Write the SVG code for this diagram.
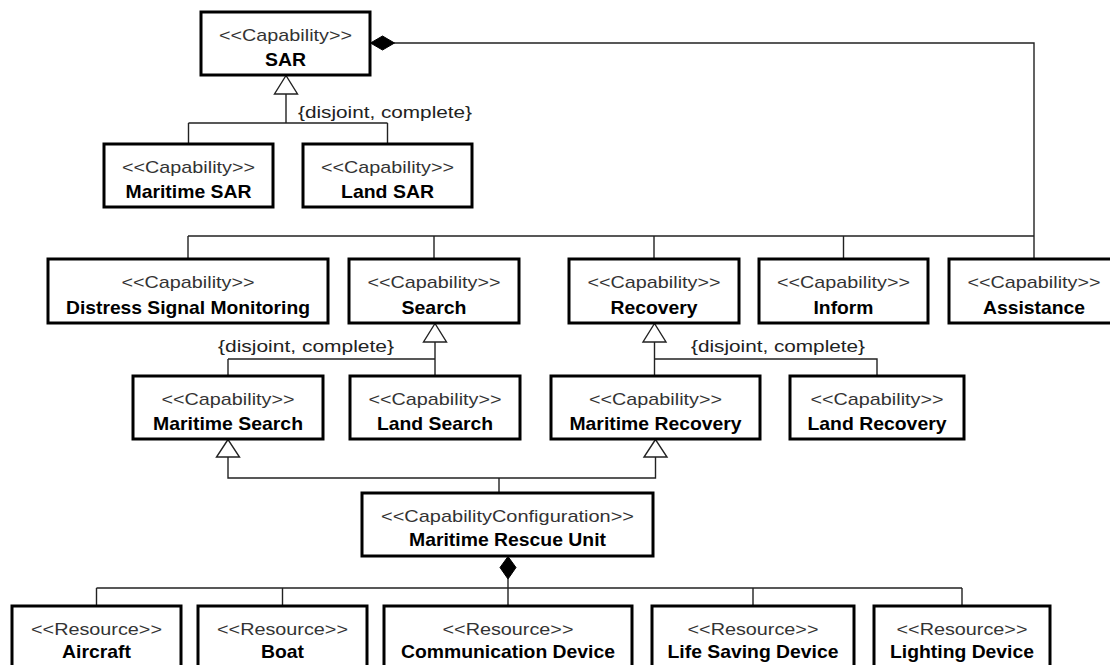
<svg xmlns="http://www.w3.org/2000/svg" width="1110" height="665" viewBox="0 0 1110 665">
<style>
.box{fill:#fff;stroke:#000;stroke-width:3}
.st{font-family:"Liberation Sans",Arial,sans-serif;font-size:17px;fill:#333;text-anchor:middle}
.nm{font-family:"Liberation Sans",Arial,sans-serif;font-size:19px;font-weight:bold;fill:#000;text-anchor:middle}
.lbl{font-family:"Liberation Sans",Arial,sans-serif;font-size:17px;fill:#222}
.ln{fill:none;stroke:#222;stroke-width:1.4}
.gen{fill:#fff;stroke:#222;stroke-width:1.4}
.dia{fill:#000;stroke:#000;stroke-width:1}
</style>
<rect width="1110" height="665" fill="#fff"/>
<g id="connectors">
  <!-- SAR composition -->
  <path class="ln" d="M394,43 H1034 V259"/>
  <path class="ln" d="M188,236 H1034 M188,236 V259 M434,236 V259 M654,236 V259 M843.5,236 V259"/>
  <polygon class="dia" points="370.5,43 382.5,36 394.5,43 382.5,50"/>
  <!-- SAR generalization -->
  <path class="ln" d="M286,94 V123 M188.5,123 H387.5 M188.5,123 V144 M387.5,123 V144"/>
  <polygon class="gen" points="286,75.5 274.5,94 297.5,94"/>
  <text class="lbl" x="298" y="118" textLength="174" lengthAdjust="spacingAndGlyphs">{disjoint, complete}</text>
  <!-- Search generalization -->
  <path class="ln" d="M435,342 V376 M228,359 H435 M228,359 V376"/>
  <polygon class="gen" points="435,323.5 423.5,342 446.5,342"/>
  <text class="lbl" x="218" y="352" textLength="176" lengthAdjust="spacingAndGlyphs">{disjoint, complete}</text>
  <!-- Recovery generalization -->
  <path class="ln" d="M654.5,342 V376 M654.5,359 H877 V376"/>
  <polygon class="gen" points="654.5,323.5 643,342 666,342"/>
  <text class="lbl" x="691" y="352" textLength="174" lengthAdjust="spacingAndGlyphs">{disjoint, complete}</text>
  <!-- MRU generalization -->
  <path class="ln" d="M228,457 V478 H655.5 V457 M499,478 V493"/>
  <polygon class="gen" points="228,439.5 216.5,457 239.5,457"/>
  <polygon class="gen" points="655.5,439.5 644,457 667,457"/>
  <!-- MRU composition -->
  <path class="ln" d="M508,579 V606 M96.5,588 H962 M96.5,588 V606 M282.5,588 V606 M753,588 V606 M962,588 V606"/>
  <polygon class="dia" points="508,556.5 516,567.5 508,579 500,567.5"/>
</g>
<g id="node-sar">
  <rect class="box" x="201" y="12" width="169" height="63"/>
  <text class="st" x="285.5" y="41" textLength="133" lengthAdjust="spacingAndGlyphs">&lt;&lt;Capability&gt;&gt;</text>
  <text class="nm" x="285.5" y="66" textLength="41" lengthAdjust="spacingAndGlyphs">SAR</text>
</g>
<g id="node-maritime-sar">
  <rect class="box" x="104" y="144" width="169" height="63"/>
  <text class="st" x="188.5" y="173" textLength="133" lengthAdjust="spacingAndGlyphs">&lt;&lt;Capability&gt;&gt;</text>
  <text class="nm" x="188.5" y="198" textLength="126" lengthAdjust="spacingAndGlyphs">Maritime SAR</text>
</g>
<g id="node-land-sar">
  <rect class="box" x="303" y="144" width="169" height="63"/>
  <text class="st" x="387.5" y="173" textLength="133" lengthAdjust="spacingAndGlyphs">&lt;&lt;Capability&gt;&gt;</text>
  <text class="nm" x="387.5" y="198" textLength="93" lengthAdjust="spacingAndGlyphs">Land SAR</text>
</g>
<g id="node-dsm">
  <rect class="box" x="48" y="259" width="280" height="64"/>
  <text class="st" x="188" y="288" textLength="133" lengthAdjust="spacingAndGlyphs">&lt;&lt;Capability&gt;&gt;</text>
  <text class="nm" x="188" y="314" textLength="244" lengthAdjust="spacingAndGlyphs">Distress Signal Monitoring</text>
</g>
<g id="node-search">
  <rect class="box" x="349" y="259" width="170" height="64"/>
  <text class="st" x="434" y="288" textLength="133" lengthAdjust="spacingAndGlyphs">&lt;&lt;Capability&gt;&gt;</text>
  <text class="nm" x="434" y="314" textLength="65" lengthAdjust="spacingAndGlyphs">Search</text>
</g>
<g id="node-recovery">
  <rect class="box" x="569" y="259" width="170" height="64"/>
  <text class="st" x="654" y="288" textLength="133" lengthAdjust="spacingAndGlyphs">&lt;&lt;Capability&gt;&gt;</text>
  <text class="nm" x="654" y="314" textLength="87" lengthAdjust="spacingAndGlyphs">Recovery</text>
</g>
<g id="node-inform">
  <rect class="box" x="759" y="259" width="169" height="64"/>
  <text class="st" x="843.5" y="288" textLength="133" lengthAdjust="spacingAndGlyphs">&lt;&lt;Capability&gt;&gt;</text>
  <text class="nm" x="843.5" y="314" textLength="60" lengthAdjust="spacingAndGlyphs">Inform</text>
</g>
<g id="node-assistance">
  <rect class="box" x="949" y="259" width="170" height="64"/>
  <text class="st" x="1034" y="288" textLength="133" lengthAdjust="spacingAndGlyphs">&lt;&lt;Capability&gt;&gt;</text>
  <text class="nm" x="1034" y="314" textLength="102" lengthAdjust="spacingAndGlyphs">Assistance</text>
</g>
<g id="node-maritime-search">
  <rect class="box" x="133" y="376" width="190" height="63"/>
  <text class="st" x="228" y="405" textLength="133" lengthAdjust="spacingAndGlyphs">&lt;&lt;Capability&gt;&gt;</text>
  <text class="nm" x="228" y="430" textLength="150" lengthAdjust="spacingAndGlyphs">Maritime Search</text>
</g>
<g id="node-land-search">
  <rect class="box" x="350" y="376" width="170" height="63"/>
  <text class="st" x="435" y="405" textLength="133" lengthAdjust="spacingAndGlyphs">&lt;&lt;Capability&gt;&gt;</text>
  <text class="nm" x="435" y="430" textLength="116" lengthAdjust="spacingAndGlyphs">Land Search</text>
</g>
<g id="node-maritime-recovery">
  <rect class="box" x="551" y="376" width="209" height="63"/>
  <text class="st" x="655.5" y="405" textLength="133" lengthAdjust="spacingAndGlyphs">&lt;&lt;Capability&gt;&gt;</text>
  <text class="nm" x="655.5" y="430" textLength="172" lengthAdjust="spacingAndGlyphs">Maritime Recovery</text>
</g>
<g id="node-land-recovery">
  <rect class="box" x="790" y="376" width="174" height="63"/>
  <text class="st" x="877" y="405" textLength="133" lengthAdjust="spacingAndGlyphs">&lt;&lt;Capability&gt;&gt;</text>
  <text class="nm" x="877" y="430" textLength="139" lengthAdjust="spacingAndGlyphs">Land Recovery</text>
</g>
<g id="node-mru">
  <rect class="box" x="362" y="493" width="291" height="63"/>
  <text class="st" x="507.5" y="522" textLength="253" lengthAdjust="spacingAndGlyphs">&lt;&lt;CapabilityConfiguration&gt;&gt;</text>
  <text class="nm" x="507.5" y="546" textLength="197" lengthAdjust="spacingAndGlyphs">Maritime Rescue Unit</text>
</g>
<g id="node-aircraft">
  <rect class="box" x="12" y="606" width="169" height="80"/>
  <text class="st" x="96.5" y="635" textLength="131" lengthAdjust="spacingAndGlyphs">&lt;&lt;Resource&gt;&gt;</text>
  <text class="nm" x="96.5" y="658" textLength="69" lengthAdjust="spacingAndGlyphs">Aircraft</text>
</g>
<g id="node-boat">
  <rect class="box" x="198" y="606" width="169" height="80"/>
  <text class="st" x="282.5" y="635" textLength="131" lengthAdjust="spacingAndGlyphs">&lt;&lt;Resource&gt;&gt;</text>
  <text class="nm" x="282.5" y="658" textLength="43" lengthAdjust="spacingAndGlyphs">Boat</text>
</g>
<g id="node-comm">
  <rect class="box" x="384" y="606" width="248" height="80"/>
  <text class="st" x="508" y="635" textLength="131" lengthAdjust="spacingAndGlyphs">&lt;&lt;Resource&gt;&gt;</text>
  <text class="nm" x="508" y="658" textLength="214" lengthAdjust="spacingAndGlyphs">Communication Device</text>
</g>
<g id="node-lsd">
  <rect class="box" x="652" y="606" width="202" height="80"/>
  <text class="st" x="753" y="635" textLength="131" lengthAdjust="spacingAndGlyphs">&lt;&lt;Resource&gt;&gt;</text>
  <text class="nm" x="753" y="658" textLength="171" lengthAdjust="spacingAndGlyphs">Life Saving Device</text>
</g>
<g id="node-lighting">
  <rect class="box" x="874" y="606" width="176" height="80"/>
  <text class="st" x="962" y="635" textLength="131" lengthAdjust="spacingAndGlyphs">&lt;&lt;Resource&gt;&gt;</text>
  <text class="nm" x="962" y="658" textLength="144" lengthAdjust="spacingAndGlyphs">Lighting Device</text>
</g>
</svg>
